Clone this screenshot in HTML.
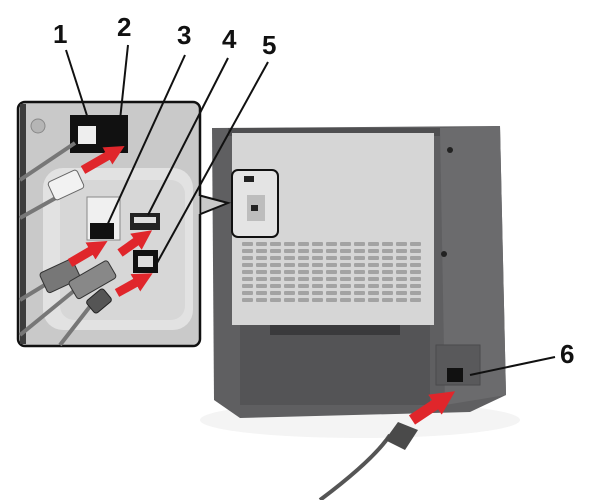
<!DOCTYPE html>
<html><head><style>html,body{margin:0;padding:0;background:#fff}svg{display:block}text{font-family:"Liberation Sans",sans-serif;font-weight:bold;font-size:26px;fill:#111}</style></head>
<body>
<svg width="600" height="500" viewBox="0 0 600 500" xmlns="http://www.w3.org/2000/svg">
<defs>
<marker id="ah" viewBox="0 0 10 10" refX="5" refY="5" markerWidth="2.2" markerHeight="2.2" orient="auto"><path d="M0,0L10,5L0,10z" fill="#e0262b"/></marker>
</defs>
<ellipse cx="360" cy="420" rx="160" ry="18" fill="#f4f4f4"/>
<path d="M212,128 L500,126 L506,395 L470,412 L240,418 L214,400 Z" fill="#5f5f61"/>
<path d="M440,128 L500,126 L506,395 L445,405 Z" fill="#6b6b6d"/>
<rect x="228" y="128" width="212" height="8" fill="#4f4f51"/>
<rect x="232" y="133" width="202" height="192" fill="#d6d6d6"/>
<g fill="#a3a3a3">
<g id="vr">
<rect x="242" y="242" width="11" height="4" rx="1"/><rect x="256" y="242" width="11" height="4" rx="1"/><rect x="270" y="242" width="11" height="4" rx="1"/><rect x="284" y="242" width="11" height="4" rx="1"/><rect x="298" y="242" width="11" height="4" rx="1"/><rect x="312" y="242" width="11" height="4" rx="1"/><rect x="326" y="242" width="11" height="4" rx="1"/><rect x="340" y="242" width="11" height="4" rx="1"/><rect x="354" y="242" width="11" height="4" rx="1"/><rect x="368" y="242" width="11" height="4" rx="1"/><rect x="382" y="242" width="11" height="4" rx="1"/><rect x="396" y="242" width="11" height="4" rx="1"/><rect x="410" y="242" width="11" height="4" rx="1"/>
</g>
<use href="#vr" y="7"/><use href="#vr" y="14"/><use href="#vr" y="21"/><use href="#vr" y="28"/><use href="#vr" y="35"/><use href="#vr" y="42"/><use href="#vr" y="49"/><use href="#vr" y="56"/>
</g>
<rect x="232" y="170" width="46" height="67" rx="6" fill="#e4e4e4" stroke="#111" stroke-width="2"/>
<rect x="244" y="176" width="10" height="6" fill="#222"/>
<rect x="247" y="195" width="18" height="26" fill="#bdbdbd"/>
<rect x="251" y="205" width="7" height="6" fill="#222"/>
<rect x="240" y="325" width="190" height="80" fill="#545456"/>
<rect x="270" y="325" width="130" height="10" fill="#3a3a3c"/>
<rect x="436" y="345" width="44" height="40" fill="#59595b" stroke="#4a4a4c"/>
<rect x="447" y="368" width="16" height="14" fill="#111"/>
<circle cx="450" cy="150" r="3" fill="#222"/><circle cx="444" cy="254" r="3" fill="#222"/>
<path d="M320,500 C360,470 380,450 390,435" stroke="#555" stroke-width="4" fill="none"/>
<path d="M385,440 L398,422 L418,430 L405,450 Z" fill="#4a4a4a"/>
<line x1="412" y1="420" x2="445" y2="398" stroke="#e0262b" stroke-width="11" marker-end="url(#ah)"/>
<path d="M198,195 L228,203 L198,215 Z" fill="#c9c9c9" stroke="#111" stroke-width="2"/>
<rect x="18" y="102" width="182" height="244" rx="7" fill="#c9c9c9" stroke="#111" stroke-width="2.5"/>
<path d="M198,196 L198,214" stroke="#c9c9c9" stroke-width="3"/>
<rect x="20" y="104" width="6" height="240" fill="#3d3d3d"/>
<rect x="43" y="168" width="150" height="162" rx="20" fill="#e2e2e2"/>
<rect x="60" y="180" width="125" height="140" rx="14" fill="#d7d7d7"/>
<circle cx="38" cy="126" r="7" fill="#b5b5b5" stroke="#888"/>
<rect x="70" y="115" width="58" height="38" fill="#111"/>
<rect x="78" y="126" width="18" height="18" fill="#eee"/>
<rect x="87" y="197" width="33" height="43" fill="#f0f0f0" stroke="#888"/>
<rect x="90" y="223" width="24" height="16" fill="#111"/>
<rect x="130" y="213" width="30" height="17" fill="#222"/>
<rect x="134" y="217" width="22" height="6" fill="#ddd"/>
<rect x="133" y="250" width="25" height="23" fill="#111"/>
<rect x="138" y="256" width="15" height="11" fill="#ddd"/>
<g stroke="#777" stroke-width="4" fill="none">
<path d="M20,180 L75,143"/>
<path d="M20,218 L70,190"/>
<path d="M20,300 L48,283"/>
<path d="M20,335 L75,290"/>
<path d="M60,345 L95,300"/>
</g>
<rect x="50" y="175" width="32" height="20" rx="3" fill="#f2f2f2" stroke="#666" transform="rotate(-25 66 185)"/>
<rect x="42" y="265" width="36" height="22" rx="3" fill="#777" stroke="#333" transform="rotate(-25 60 276)"/>
<rect x="70" y="270" width="45" height="20" rx="3" fill="#888" stroke="#333" transform="rotate(-30 92 280)"/>
<rect x="88" y="293" width="22" height="16" rx="3" fill="#555" stroke="#222" transform="rotate(-40 99 301)"/>
<g stroke="#e0262b" stroke-width="9" marker-end="url(#ah)">
<line x1="83" y1="170" x2="116" y2="151"/>
<line x1="70" y1="263" x2="99" y2="246"/>
<line x1="120" y1="253" x2="144" y2="236"/>
<line x1="117" y1="293" x2="144" y2="278"/>
</g>
<g stroke="#111" stroke-width="2">
<line x1="66" y1="50" x2="90" y2="125"/>
<line x1="128" y1="45" x2="120" y2="120"/>
<line x1="185" y1="55" x2="105" y2="230"/>
<line x1="228" y1="58" x2="148" y2="215"/>
<line x1="268" y1="62" x2="157" y2="263"/>
<line x1="555" y1="357" x2="470" y2="375"/>
</g>
<text x="53" y="43">1</text>
<text x="117" y="36">2</text>
<text x="177" y="44">3</text>
<text x="222" y="48">4</text>
<text x="262" y="54">5</text>
<text x="560" y="363">6</text>
</svg>
</body></html>
